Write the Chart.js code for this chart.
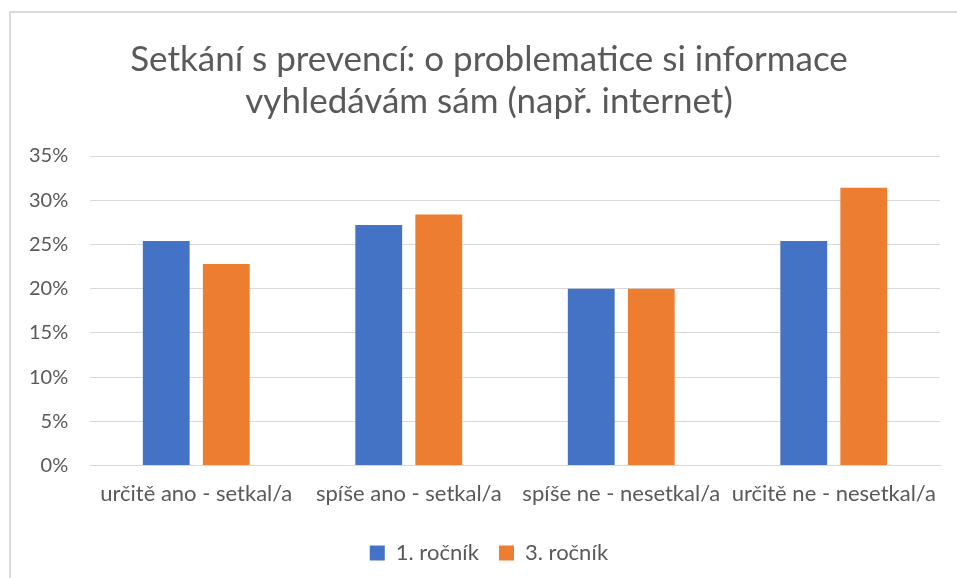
<!DOCTYPE html>
<html>
<head>
<meta charset="utf-8">
<script src="https://cdn.jsdelivr.net/npm/chart.js@4/dist/chart.umd.min.js"></script>
<style>
    html, body { margin: 0; padding: 0; background: #fff; }
    #wrap { position: relative; width: 957px; height: 578px; overflow: hidden; }
    #frame {
        position: absolute; left: 9px; top: 11px; right: -5px; bottom: -5px;
        border-left: 2px solid #d9d9d9; border-top: 2px solid #d9d9d9;
        pointer-events: none;
    }
    canvas { position: absolute; left: 0; top: 0; }
</style>
</head>
<body>
<div id="wrap">
    <canvas id="chart" width="957" height="578"></canvas>
    <div id="frame"></div>
</div>
<script>
// data (percent)
const categories = [
    'určitě ano - setkal/a',
    'spíše ano - setkal/a',
    'spíše ne - nesetkal/a',
    'určitě ne - nesetkal/a',
];
const rocnik1 = [25.4, 27.2, 20.0, 25.4];
const rocnik3 = [22.8, 28.4, 20.0, 31.4];
const seriesNames = ['1. ročník', '3. ročník'];
const titleLines = ['Setkání s prevencí: o problematice si informace', 'vyhledávám sám (např. internet)'];

const FONT = "Lato, 'Open Sans', sans-serif";
const TEXT = '#595959';
const GRID = '#d9d9d9';

new Chart(document.getElementById('chart'), {
    type: 'bar',
    data: {
        labels: categories,
        datasets: [
            { label: seriesNames[0], data: rocnik1, backgroundColor: '#4472c4' },
            { label: seriesNames[1], data: rocnik3, backgroundColor: '#ed7d31' },
        ],
    },
    options: {
        responsive: false,
        animation: false,
        categoryPercentage: 0.565,
        barPercentage: 0.78,
        layout: { padding: { top: 20, left: 38, right: 17, bottom: 4 } },
        scales: {
            x: {
                grid: { display: false, drawTicks: false },
                border: { color: GRID, width: 1 },
                ticks: { color: TEXT, font: { family: FONT, size: 22 }, padding: 15, maxRotation: 0, autoSkip: false },
            },
            y: {
                min: 0,
                max: 35,
                grid: { color: GRID, lineWidth: 1, drawTicks: false },
                border: { display: false },
                // narrow axis box (so title/legend centre like the reference);
                // mirrored labels pulled back left of the plot, right-aligned
                afterFit: (scale) => { scale.width = 52; },
                ticks: {
                    mirror: true,
                    crossAlign: 'far',
                    padding: -61,
                    stepSize: 5,
                    color: TEXT,
                    font: { family: FONT, size: 20 },
                    callback: (v) => `${v}%`,
                },
            },
        },
        plugins: {
            title: {
                display: true,
                text: titleLines,
                color: TEXT,
                font: { family: FONT, size: 35, weight: 'normal', lineHeight: 1.2 },
                padding: { top: 19, bottom: 33 },
            },
            legend: {
                position: 'bottom',
                labels: {
                    color: TEXT,
                    font: { family: FONT, size: 22 },
                    boxWidth: 15,
                    boxHeight: 15,
                    padding: 20,
                },
            },
            tooltip: { enabled: false },
        },
    },
});
</script>
</body>
</html>
